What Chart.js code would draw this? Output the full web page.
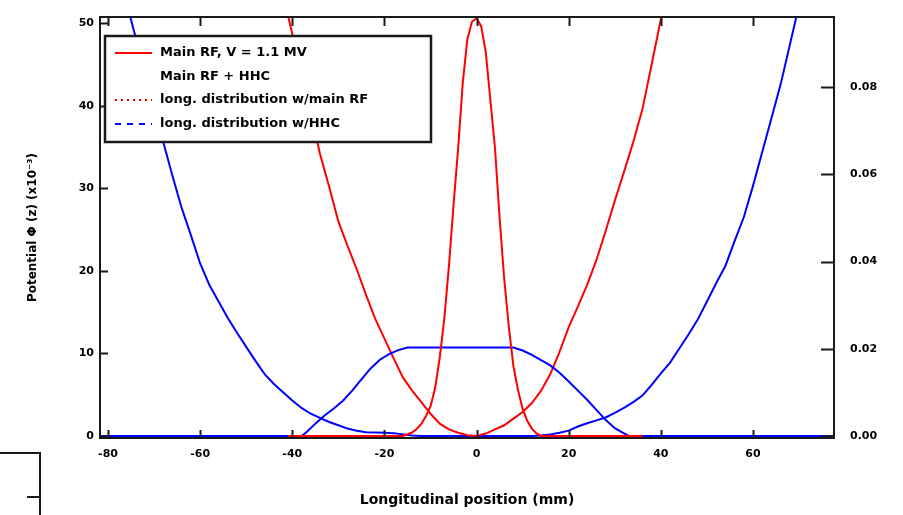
<!DOCTYPE html>
<html>
<head>
<meta charset="utf-8">
<script src="https://cdn.jsdelivr.net/npm/chart.js@4.4.1/dist/chart.umd.min.js"></script>
<style>
  html, body { margin: 0; padding: 0; background: #fff; }
</style>
</head>
<body>
<canvas id="potChart" width="903" height="515"></canvas>
<script>
// potential of main RF alone (left axis, x10^-3)
const potMainZ = [-42,-40,-38,-36,-34,-32,-30,-28,-26,-24,-22,-20,-18,-16,-14,-12,-10,-8,-6,-4,-2,0,2,4,6,8,10,12,14,16,18,20,22,24,26,28,30,32,34,36,38,40,42];
const potMainVal = [53.5,48.7,43.8,39.1,34.2,30.2,26.0,23.0,20.2,17.1,14.2,11.8,9.4,7.1,5.5,4.1,2.7,1.5,0.8,0.4,0.1,0,0.3,0.8,1.3,2.1,2.9,4.0,5.5,7.5,10.2,13.2,15.7,18.3,21.3,24.8,28.5,32.0,35.6,39.6,45.0,50.5,56.0];

// potential of main RF + harmonic cavity
const potHhcZ = [-76,-74,-72,-70,-68,-66,-64,-62,-60,-58,-56,-54,-52,-50,-48,-46,-44,-42,-40,-38,-36,-34,-32,-30,-28,-26,-24,-20,-18,-16,-14,-12,12,14,16,18,20,22,24,26,28,30,32,34,36,38,40,42,44,46,48,50,52,54,56,58,60,62,64,66,68,70];
const potHhcVal = [52.5,48.3,44.1,39.8,35.6,31.5,27.6,24.3,20.9,18.3,16.3,14.3,12.5,10.8,9.1,7.5,6.3,5.3,4.3,3.4,2.7,2.2,1.7,1.3,0.9,0.65,0.45,0.4,0.35,0.2,0.05,0,0,0.05,0.2,0.4,0.65,1.15,1.55,1.9,2.25,2.8,3.4,4.1,4.9,6.2,7.6,8.9,10.6,12.3,14.1,16.3,18.5,20.6,23.6,26.5,30.3,34.4,38.5,42.6,47.4,52.2];

// bunch distributions (right axis)
const distMainZ = [-41,-16,-14,-13,-12,-11,-10,-9,-8,-7,-6,-5,-4,-3,-2,-1,0,1,2,3,4,5,6,7,8,9,10,11,12,13,14,36];
const distMainVal = [0,0,0.0008,0.0016,0.0028,0.0045,0.0068,0.011,0.018,0.027,0.039,0.053,0.066,0.081,0.091,0.095,0.0958,0.094,0.088,0.077,0.066,0.05,0.036,0.025,0.016,0.0105,0.0062,0.0035,0.0017,0.0006,0,0];

const distHhcZ = [-82,-38,-37,-35,-33,-31,-29,-27,-25,-23,-21,-19,-17,-15,8,10,12,14,16,18,20,22,24,26,28,30,32,33,78];
const distHhcVal = [0,0,0.0008,0.0028,0.0047,0.0063,0.0081,0.0104,0.0130,0.0155,0.0175,0.0188,0.0197,0.0203,0.0203,0.0196,0.0186,0.0174,0.0162,0.0145,0.0125,0.0104,0.0083,0.0060,0.0037,0.0018,0.0006,0,0];

const seriesLabels = ['Main RF, V = 1.1 MV', 'Main RF + HHC', 'long. distribution w/main RF', 'long. distribution w/HHC'];

const xTicks = [-80, -60, -40, -20, 0, 20, 40, 60];
const yTicks = [0, 10, 20, 30, 40, 50];
const y1Ticks = [0, 0.02, 0.04, 0.06, 0.08];

function pairs(zs, vs) {
    return zs.map((z, i) => ({ x: z, y: vs[i] }));
}

const FONT = 'DejaVu Sans';
const INK = '#1a1a1a';

// legend sample styles: [colour, dash]  (second entry shows no line in the original)
const legendStyles = [
    ['#ff0000', []],
    ['rgba(0,0,0,0)', []],
    ['#ff0000', [2, 4]],
    ['#0000ff', [6, 6]]
];

const framePlugin = {
    id: 'frame',
    afterDatasetsDraw(chart) {
        const ctx = chart.ctx;
        const a = chart.chartArea;
        const sx = chart.scales.x, sy = chart.scales.y, sy1 = chart.scales.y1;
        ctx.save();
        ctx.strokeStyle = INK;
        ctx.lineWidth = 2;
        ctx.strokeRect(a.left, a.top, a.right - a.left, a.bottom - a.top);
        ctx.beginPath();
        // inward tick marks
        xTicks.forEach(v => {
            const px = Math.round(sx.getPixelForValue(v)) + 0.5;
            ctx.moveTo(px, a.bottom); ctx.lineTo(px, a.bottom - 8);
            ctx.moveTo(px, a.top); ctx.lineTo(px, a.top + 9);
        });
        yTicks.forEach(v => {
            const py = Math.round(sy.getPixelForValue(v)) + 0.5;
            ctx.moveTo(a.left, py); ctx.lineTo(a.left + 8, py);
        });
        y1Ticks.forEach(v => {
            const py = Math.round(sy1.getPixelForValue(v)) + 0.5;
            ctx.moveTo(a.right, py); ctx.lineTo(a.right - 13, py);
        });
        ctx.stroke();

        // legend box, white filled so it hides the curves behind it
        ctx.fillStyle = '#fff';
        ctx.fillRect(105, 36, 326, 106);
        ctx.lineWidth = 2.5;
        ctx.strokeRect(105, 36, 326, 106);
        ctx.font = 'bold 13px "' + FONT + '"';
        ctx.fillStyle = '#000';
        ctx.textBaseline = 'middle';
        const rows = [53, 77, 100, 124];
        chart.data.datasets.forEach((ds, i) => {
            const y = rows[i];
            ctx.strokeStyle = legendStyles[i][0];
            ctx.lineWidth = 2;
            ctx.setLineDash(legendStyles[i][1]);
            ctx.beginPath();
            ctx.moveTo(115, y); ctx.lineTo(152, y);
            ctx.stroke();
            ctx.setLineDash([]);
            ctx.fillText(ds.label, 160, y);
        });
        ctx.restore();
    },
    afterDraw(chart) {
        const ctx = chart.ctx;
        ctx.save();
        // stray frame corner from a neighbouring panel (bottom left)
        ctx.strokeStyle = INK;
        ctx.lineWidth = 2;
        ctx.beginPath();
        ctx.moveTo(0, 453); ctx.lineTo(40, 453); ctx.lineTo(40, 515);
        ctx.moveTo(27, 497); ctx.lineTo(40, 497);
        ctx.stroke();
        ctx.restore();
    }
};

function noEdgePad(s) {
    s.paddingTop = 0; s.paddingBottom = 0;
    s.paddingLeft = 0; s.paddingRight = 0;
}

const ctx = document.getElementById('potChart').getContext('2d');
new Chart(ctx, {
    type: 'line',
    data: {
        datasets: [
            { label: seriesLabels[0], data: pairs(potMainZ, potMainVal), yAxisID: 'y', borderColor: '#ff0000', order: 2 },
            { label: seriesLabels[1], data: pairs(potHhcZ, potHhcVal), yAxisID: 'y', borderColor: '#0000ff', order: 3 },
            { label: seriesLabels[2], data: pairs(distMainZ, distMainVal), yAxisID: 'y1', borderColor: '#ff0000', order: 0 },
            { label: seriesLabels[3], data: pairs(distHhcZ, distHhcVal), yAxisID: 'y1', borderColor: '#0000ff', order: 1 }
        ]
    },
    options: {
        responsive: false,
        animation: false,
        devicePixelRatio: 1,
        layout: { padding: { top: 17, left: 0, right: 0, bottom: 0 } },
        elements: {
            point: { radius: 0 },
            line: { borderWidth: 2, tension: 0, fill: false }
        },
        plugins: {
            legend: { display: false },
            tooltip: { enabled: false }
        },
        scales: {
            x: {
                type: 'linear',
                min: -81.74,
                max: 77.58,
                afterBuildTicks: s => { s.ticks = xTicks.map(v => ({ value: v })); },
                afterFit: s => { s.height = 77; noEdgePad(s); },
                grid: { drawOnChartArea: false, drawTicks: false },
                border: { display: false },
                ticks: {
                    padding: 10,
                    color: '#000',
                    font: { family: FONT, size: 11, weight: 'bold' },
                    callback: v => String(v)
                },
                title: {
                    display: true,
                    text: 'Longitudinal position (mm)',
                    color: '#000',
                    font: { family: FONT, size: 14, weight: 'bold' },
                    padding: { top: 0, bottom: 6 }
                }
            },
            y: {
                position: 'left',
                min: -0.24,
                max: 50.76,
                afterBuildTicks: s => { s.ticks = yTicks.map(v => ({ value: v })); },
                afterFit: s => { s.width = 100; noEdgePad(s); },
                grid: { drawOnChartArea: false, drawTicks: false },
                border: { display: false },
                ticks: {
                    padding: 6,
                    color: '#000',
                    font: { family: FONT, size: 11, weight: 'bold' },
                    callback: v => String(v)
                },
                title: {
                    display: true,
                    text: 'Potential \u03A6 (z) (x10\u207B\u00B3)',
                    color: '#000',
                    font: { family: FONT, size: 12, weight: 'bold' },
                    padding: { top: 26, bottom: 0 }
                }
            },
            y1: {
                position: 'right',
                min: -0.00046,
                max: 0.0961,
                afterBuildTicks: s => { s.ticks = y1Ticks.map(v => ({ value: v })); },
                afterFit: s => { s.width = 69; noEdgePad(s); },
                grid: { drawOnChartArea: false, drawTicks: false },
                border: { display: false },
                ticks: {
                    padding: 16,
                    color: '#000',
                    font: { family: FONT, size: 11, weight: 'bold' },
                    callback: v => v.toFixed(2)
                }
            }
        }
    },
    plugins: [framePlugin]
});
</script>
</body>
</html>
